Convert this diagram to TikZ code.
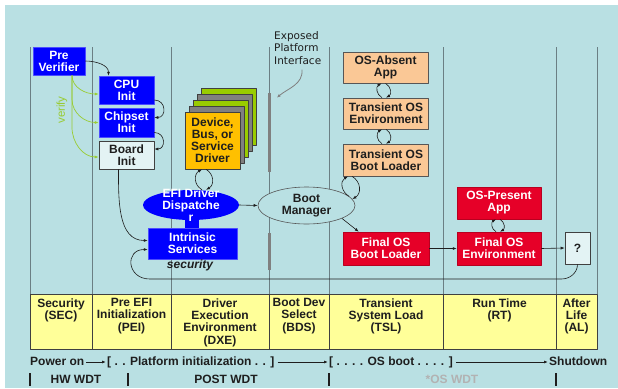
\documentclass[tikz,border=0pt]{standalone}
\usepackage{fontspec}
\setmainfont{Liberation Sans}
\newfontfamily\handfont{DejaVu Sans}
\usetikzlibrary{arrows.meta,calc,positioning,shapes.geometric}
\definecolor{uefiBg}{HTML}{B9E0E3}
\definecolor{uefiInk}{HTML}{1E1E1E}
\definecolor{uefiLine}{HTML}{6B7F84}
\definecolor{uefiBlue}{HTML}{0000FF}
\definecolor{uefiYellow}{HTML}{FFFF99}
\definecolor{uefiPeach}{HTML}{FAC896}
\definecolor{uefiRed}{HTML}{E60028}
\definecolor{uefiGold}{HTML}{FFC000}
\definecolor{uefiGreen}{HTML}{99CC00}
\definecolor{uefiGray}{HTML}{808080}
\definecolor{uefiVerify}{HTML}{99CC33}

\begin{document}
\begin{tikzpicture}[x=1pt,y=-1pt,>={Latex[length=4pt,width=3pt]},line join=round]
\useasboundingbox (0,0) rectangle (618,388);
\path[fill=uefiBg] (5,5) rectangle (618,388);
\tikzset{boxtxt/.style={align=center,font=\bfseries\fontsize{12}{12}\selectfont,inner sep=0pt},
  bluebox/.style={boxtxt,draw=uefiBlue!70!white,fill=uefiBlue,text=white,line width=0.5pt},
  peachbox/.style={boxtxt,draw=uefiInk!75,fill=uefiPeach,text=uefiInk,line width=0.6pt,minimum width=85,minimum height=31},
  redbox/.style={boxtxt,draw=uefiRed!80!black,fill=uefiRed,text=white,line width=0.5pt,minimum width=85,minimum height=32},
  plainbox/.style={boxtxt,draw=uefiInk!85,fill=uefiBg!40!white,text=uefiInk,line width=0.6pt},
  drvbox/.style={boxtxt,draw=uefiInk!85,line width=0.6pt,minimum width=55,minimum height=57},
  cell/.style={draw=uefiInk!85,fill=uefiYellow,line width=0.6pt,minimum height=55,inner sep=0pt},
  celltxt/.style={anchor=north,align=center,font=\bfseries\fontsize{12}{12.3}\selectfont,text=uefiInk,inner xsep=1pt,inner ysep=4.5pt},
  colline/.style={draw=uefiLine,line width=0.6pt},
  conn/.style={draw=uefiInk,line width=0.6pt,->},
  cyc/.style={draw=uefiInk,line width=0.6pt,->},
  vfy/.style={draw=uefiVerify,line width=0.7pt,->},
  flowtxt/.style={anchor=west,inner sep=0pt,text height=9pt,text depth=3pt,font=\bfseries\fontsize{12}{12}\selectfont,text=uefiInk},
  bar/.style={fill=uefiGray,minimum width=3,inner sep=0pt}}
% phase columns
\foreach \cx in {30,92,171,269,329,443,556,597} \draw[colline] (\cx,47) -- (\cx,294);
\node[bar,minimum height=79] (barA) at (269,132.5) {};
\node[bar,minimum height=37] (barB) at (269,251.5) {};
\node[anchor=north west,align=left,inner sep=0pt,font=\handfont\fontsize{10.5}{12.5}\selectfont,text=uefiInk] (epi) at (274,31) {Exposed\\Platform\\Interface};
\draw[draw=uefiGray,line width=0.8pt,->] ($(epi.south west)+(28,5)$) to[out=-85,in=40] ($(barA.north east)+(6,5)$);
% SEC and PEI
\node[bluebox,minimum width=52,minimum height=28] (pv) at (59,61) {Pre\\Verifier};
\node[bluebox,minimum width=55,minimum height=28] (cpu) at (126.5,90) {CPU\\Init};
\node[bluebox,minimum width=55,minimum height=29] (chip) at (126.5,122.5) {Chipset\\Init};
\node[plainbox,minimum width=55,minimum height=28] (board) at (126.5,155) {Board\\Init};
\draw[conn] (pv.east) to[out=0,in=90] ([xshift=-18pt]cpu.north);
\draw[vfy] ([xshift=13pt]pv.south) to[out=-90,in=180] ([yshift=-4pt]cpu.west);
\draw[vfy] ([xshift=13pt]pv.south) -- ++(0,24) to[out=-90,in=180] (chip.west);
\draw[vfy] ([xshift=13pt]pv.south) -- ++(0,52) to[out=-90,in=180] ([yshift=-2pt]board.west);
\node[rotate=90,text=uefiVerify,font=\fontsize{11.5}{12}\selectfont] (vtxt) at (62,110) {verify};
\draw[conn] ([yshift=-10pt]cpu.east) to[out=0,in=0,looseness=1.8] ([yshift=5pt]chip.east);
\draw[conn] ([yshift=-10pt]chip.east) to[out=0,in=0,looseness=1.8] ([yshift=6pt]board.east);
% DXE
\foreach \k/\c in {4/uefiGreen,3/uefiGray,2/uefiGreen,1/uefiGray}
  \node[drvbox,fill=\c] (drv\k) at ({212.5+4*\k},{140.5-6*\k}) {};
\node[drvbox,fill=uefiGold,text=uefiInk] (drv) at (212.5,140.5) {Device,\\Bus, or\\Service\\Driver};
\node[ellipse,fill=uefiBlue,minimum width=96,minimum height=30,inner sep=0pt] (disp) at (191,205) {};
\node[bluebox,minimum width=89,minimum height=31] (intr) at (192.5,243.5) {Intrinsic\\Services};
\fill[uefiBlue] ([xshift=-6pt]disp.south) rectangle ([xshift=6pt]intr.north);
\node[boxtxt,text=white] (disptxt) at (disp) {EFI Driver\\Dispatche\\r};
\node[font=\bfseries\itshape\fontsize{12}{12}\selectfont,text=uefiInk] (sectxt) at (190,265) {security};
\draw[cyc] ([xshift=11pt]disp.north) to[out=150,in=-150,looseness=1.2] ([xshift=-10.5pt]drv.south);
\draw[cyc] ([xshift=-6.5pt]drv.south) to[out=-30,in=30,looseness=1.2] ([xshift=15pt]disp.north);
\draw[conn] ([xshift=-8pt]board.south) to[out=-90,in=180] ([yshift=3pt]intr.west);
% BDS
\node[ellipse,draw=uefiInk!75,fill=uefiBg,line width=0.6pt,minimum width=97,minimum height=37,inner sep=0pt,align=center,font=\bfseries\fontsize{12}{12}\selectfont,text=uefiInk] (bm) at (306.5,205.5) {Boot\\Manager};
\draw[conn] (disp.east) -- (bm.west);
% TSL
\node[peachbox] (osa) at (385.5,67.5) {OS-Absent\\App};
\node[peachbox] (tenv) at (386,113.5) {Transient OS\\Environment};
\node[peachbox,minimum height=32] (tbl) at (386,160) {Transient OS\\Boot Loader};
\node[redbox,minimum width=86,minimum height=33] (fbl) at (386,248.5) {Final OS\\Boot Loader};
\draw[cyc] ([xshift=-4pt]tenv.north) to[out=150,in=-150,looseness=1.2] ([xshift=-4pt]osa.south);
\draw[cyc] ([xshift=0pt]osa.south) to[out=-30,in=30,looseness=1.2] ([xshift=0pt]tenv.north);
\draw[cyc] ([xshift=-4pt]tbl.north) to[out=150,in=-150,looseness=1.2] ([xshift=-4pt]tenv.south);
\draw[cyc] ([xshift=0pt]tenv.south) to[out=-30,in=30,looseness=1.2] ([xshift=0pt]tbl.north);
\draw[cyc] (bm.12) to[out=150,in=-150,looseness=1.2] ([xshift=-38pt]tbl.south);
\draw[cyc] ([xshift=-34pt]tbl.south) to[out=-30,in=30,looseness=1.2] (bm.8);
\draw[conn] (bm.-20) -- ([xshift=16pt]fbl.north west);
% RT and AL
\node[redbox,minimum width=84] (opa) at (499,203) {OS-Present\\App};
\node[redbox,minimum width=84,minimum height=33] (fenv) at (499,248.5) {Final OS\\Environment};
\node[plainbox,minimum width=25,minimum height=32] (qm) at (577.5,248) {?};
\draw[cyc] ([xshift=-3pt]fenv.north) to[out=150,in=-150,looseness=1.2] ([xshift=-3pt]opa.south);
\draw[cyc] ([xshift=1pt]opa.south) to[out=-30,in=30,looseness=1.2] ([xshift=1pt]fenv.north);
\draw[conn] (fbl.east) -- (fenv.west);
\draw[conn] (fenv.east) -- (qm.west);
\coordinate (loopbase) at (0,279);
\draw[conn] (qm.south) to[out=-90,in=0] ($(qm.south |- loopbase)+(-16,0)$) -- ($(intr.west |- loopbase)+(2,0)$) to[out=180,in=180,looseness=2] ([yshift=-6pt]intr.west);
% phase table
\foreach \xl/\xr/\nm/\txt in {30/92/sec/{Security\\(SEC)},92/171/pei/{Pre EFI\\Initialization\\(PEI)},171/269/dxe/{Driver\\Execution\\Environment\\(DXE)},269/329/bds/{Boot Dev\\Select\\(BDS)},329/443/tsl/{Transient\\System Load\\(TSL)},443/556/rt/{Run Time\\(RT)},556/597/al/{After\\Life\\(AL)}}
{ \node[cell,minimum width=\xr-\xl] (\nm) at ({(\xl+\xr)/2},321.5) {};
  \node[celltxt] (\nm txt) at (\nm.north) {\txt}; }
% boot flow
\node[flowtxt] (pwr) at (30,362) {Power on};
\node[flowtxt] (plat) at (107,362) {[ . . Platform initialization . . ]};
\node[flowtxt] (osb) at (329,362) {[ . . . . OS boot . . . . ]};
\node[flowtxt] (shut) at (549,362) {Shutdown};
\draw[conn,line width=0.8pt] ([xshift=2pt]pwr.east) -- ([xshift=-1pt]plat.west);
\draw[conn,line width=0.8pt] ([xshift=3pt]plat.east) -- ([xshift=-1pt]osb.west);
\draw[conn,line width=0.8pt] ([xshift=3pt]osb.east) -- ([xshift=-1pt]shut.west);
\foreach \bx in {30,128,329,556} \draw[draw=uefiInk,line width=1.6pt] (\bx,373) -- (\bx,386);
\node[font=\bfseries\fontsize{12}{12}\selectfont,text=uefiInk] (hw) at (76,379) {HW WDT};
\node[font=\bfseries\fontsize{12}{12}\selectfont,text=uefiInk] (post) at (226,379) {POST WDT};
\node[font=\bfseries\fontsize{12}{12}\selectfont,text=gray!60] (osw) at (452,379) {*OS WDT};
\end{tikzpicture}
\end{document}
